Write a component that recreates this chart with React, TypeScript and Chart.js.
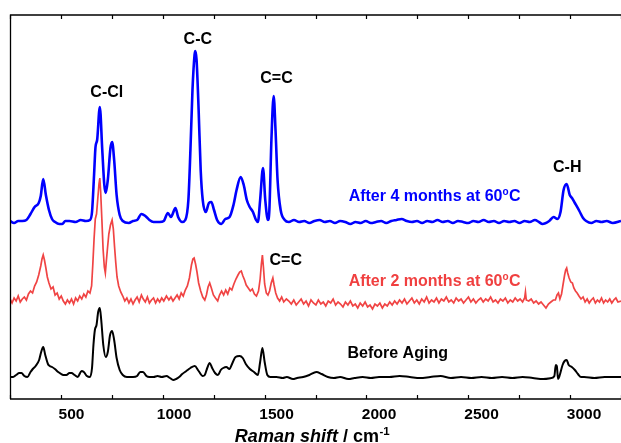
import React, { useEffect, useRef } from 'react';
import { Chart, registerables } from 'chart.js';

Chart.register(...registerables);

// [Raman shift (cm-1), intensity (arbitrary units, traces offset)]
const blueSpectrum: number[][] = [
  [200, 178], [220, 176], [240, 178], [260, 178], [280, 179], [300, 185], [320, 192], [340, 196], [350, 203], [362, 220],
  [375, 204], [390, 189], [405, 180], [420, 177], [440, 175], [455, 175], [470, 178], [490, 178], [520, 177], [545, 179],
  [570, 178], [590, 179], [600, 187], [610, 224], [617, 252], [625, 259], [638, 292], [650, 249], [660, 214], [667, 206],
  [677, 219], [690, 251], [698, 257], [708, 239], [720, 204], [735, 184], [750, 178], [780, 176], [800, 178], [820, 179],
  [841, 185], [860, 183], [880, 179], [900, 177], [930, 177], [950, 178], [970, 186], [985, 182], [1007, 191], [1020, 182],
  [1040, 177], [1055, 179], [1070, 199], [1080, 249], [1090, 309], [1100, 344], [1104, 348], [1110, 339], [1120, 289], [1130, 229],
  [1140, 199], [1155, 187], [1170, 196], [1182, 197], [1195, 189], [1210, 179], [1231, 175], [1250, 180], [1271, 182], [1290, 194],
  [1305, 209], [1325, 222], [1340, 214], [1355, 199], [1369, 192], [1385, 187], [1400, 179], [1409, 177], [1420, 199], [1434, 231],
  [1445, 199], [1458, 179], [1465, 189], [1475, 259], [1486, 303], [1495, 269], [1505, 219], [1520, 189], [1540, 179], [1560, 177],
  [1585, 179], [1610, 177], [1635, 178], [1660, 176], [1685, 178], [1710, 179], [1735, 177], [1760, 178], [1785, 176], [1810, 178],
  [1835, 177], [1860, 175], [1885, 177], [1910, 176], [1935, 178], [1960, 176], [1985, 177], [2010, 178], [2035, 176], [2060, 178],
  [2085, 179], [2110, 180], [2135, 178], [2160, 177], [2185, 178], [2210, 176], [2235, 178], [2260, 177], [2285, 179], [2310, 177],
  [2335, 178], [2360, 176], [2385, 178], [2410, 177], [2435, 176], [2460, 178], [2485, 177], [2510, 179], [2535, 177], [2560, 178],
  [2585, 176], [2610, 178], [2635, 177], [2660, 178], [2685, 176], [2710, 178], [2735, 177], [2760, 179], [2780, 177], [2797, 175],
  [2830, 178], [2851, 182], [2870, 180], [2885, 187], [2900, 209], [2915, 215], [2930, 204], [2941, 201], [2955, 196], [2977, 188],
  [2995, 181], [3010, 178], [3035, 176], [3060, 178], [3085, 177], [3110, 178], [3140, 176], [3180, 178],
];

const redSpectrum: number[][] = [
  [200, 100], [210, 96], [220, 101], [230, 98], [240, 103], [250, 97], [260, 100], [270, 102], [280, 99], [290, 105],
  [300, 108], [310, 106], [320, 113], [330, 117], [340, 124], [350, 133], [356, 140], [362, 144], [368, 139], [375, 131],
  [382, 122], [390, 116], [400, 110], [410, 112], [420, 104], [430, 106], [440, 100], [450, 103], [460, 98], [470, 95],
  [480, 99], [490, 96], [500, 100], [510, 95], [520, 101], [530, 98], [540, 103], [550, 100], [560, 105], [570, 102],
  [580, 108], [590, 106], [598, 113], [604, 135], [610, 160], [616, 180], [622, 185], [628, 200], [634, 215], [638, 221],
  [642, 208], [648, 180], [654, 150], [660, 132], [665, 126], [670, 138], [676, 152], [682, 165], [690, 174], [698, 179],
  [704, 170], [710, 152], [716, 136], [722, 122], [730, 113], [740, 107], [750, 103], [760, 98], [770, 101], [780, 96],
  [790, 100], [800, 95], [810, 99], [820, 102], [830, 97], [841, 104], [850, 100], [860, 97], [870, 102], [880, 96],
  [890, 99], [900, 101], [910, 96], [920, 100], [930, 97], [940, 101], [950, 98], [963, 103], [975, 99], [985, 102],
  [995, 98], [1005, 101], [1015, 104], [1025, 100], [1035, 106], [1045, 103], [1055, 109], [1065, 113], [1075, 121], [1085, 134],
  [1092, 140], [1098, 141], [1105, 135], [1112, 127], [1120, 116], [1130, 108], [1140, 102], [1150, 99], [1158, 104], [1166, 112],
  [1174, 116], [1182, 111], [1192, 104], [1202, 101], [1213, 98], [1222, 104], [1232, 108], [1242, 104], [1252, 109], [1262, 105],
  [1272, 111], [1282, 109], [1292, 115], [1302, 120], [1312, 124], [1320, 127], [1328, 128], [1336, 123], [1344, 119], [1352, 114],
  [1362, 111], [1372, 108], [1382, 110], [1392, 105], [1402, 103], [1412, 108], [1420, 120], [1426, 135], [1431, 144], [1436, 132],
  [1442, 115], [1450, 106], [1458, 104], [1466, 108], [1474, 116], [1482, 121], [1488, 114], [1496, 106], [1505, 101], [1515, 98],
  [1525, 102], [1535, 97], [1548, 100], [1560, 98], [1572, 95], [1584, 99], [1596, 94], [1608, 97], [1620, 100], [1632, 95],
  [1644, 98], [1656, 93], [1668, 99], [1680, 96], [1692, 94], [1704, 99], [1716, 95], [1728, 97], [1740, 93], [1752, 98],
  [1764, 96], [1776, 100], [1788, 94], [1800, 97], [1812, 95], [1824, 92], [1836, 97], [1848, 94], [1860, 98], [1872, 93],
  [1884, 95], [1896, 91], [1908, 96], [1920, 93], [1932, 97], [1944, 92], [1956, 94], [1968, 90], [1980, 95], [1992, 93],
  [2004, 96], [2016, 91], [2028, 95], [2040, 93], [2052, 97], [2064, 94], [2076, 98], [2088, 95], [2100, 99], [2112, 96],
  [2124, 100], [2136, 95], [2148, 98], [2160, 101], [2172, 96], [2184, 99], [2196, 95], [2208, 100], [2220, 97], [2232, 102],
  [2244, 96], [2256, 99], [2268, 97], [2280, 101], [2292, 96], [2304, 100], [2316, 98], [2328, 102], [2340, 97], [2352, 99],
  [2364, 96], [2376, 101], [2388, 98], [2400, 100], [2412, 96], [2424, 99], [2436, 102], [2448, 97], [2460, 100], [2472, 96],
  [2484, 99], [2496, 101], [2508, 97], [2520, 100], [2532, 98], [2544, 102], [2556, 97], [2568, 99], [2580, 96], [2592, 100],
  [2604, 98], [2616, 101], [2628, 96], [2640, 99], [2652, 97], [2664, 101], [2676, 98], [2688, 100], [2700, 97], [2710, 101],
  [2714, 107], [2718, 99], [2730, 98], [2742, 100], [2754, 96], [2766, 98], [2778, 95], [2790, 97], [2802, 94], [2814, 91],
  [2826, 95], [2838, 97], [2850, 99], [2860, 99], [2868, 104], [2875, 106], [2882, 100], [2890, 105], [2897, 114], [2905, 124],
  [2910, 129], [2915, 131], [2920, 126], [2927, 121], [2935, 117], [2943, 116], [2950, 111], [2958, 108], [2966, 106], [2975, 103],
  [2985, 100], [2995, 102], [3005, 97], [3015, 100], [3025, 96], [3035, 99], [3045, 101], [3055, 96], [3065, 99], [3075, 97],
  [3085, 101], [3095, 96], [3105, 99], [3115, 97], [3125, 100], [3135, 96], [3145, 99], [3155, 101], [3165, 97], [3180, 98],
];

const blackSpectrum: number[][] = [
  [200, 22], [215, 22], [230, 24], [245, 26], [256, 26], [270, 23], [285, 22], [300, 27], [311, 30], [325, 33],
  [342, 39], [352, 47], [362, 52], [372, 44], [385, 35], [394, 33], [405, 32], [419, 30], [435, 27], [450, 25],
  [459, 24], [475, 24], [490, 26], [500, 26], [515, 24], [530, 22], [549, 28], [560, 27], [575, 23], [590, 22],
  [600, 31], [607, 54], [614, 69], [622, 74], [630, 87], [638, 91], [645, 79], [655, 54], [667, 42], [677, 47],
  [688, 64], [698, 68], [708, 59], [720, 41], [735, 29], [750, 24], [770, 22], [800, 22], [820, 23], [835, 27],
  [849, 27], [865, 23], [880, 22], [900, 22], [920, 23], [940, 22], [963, 23], [980, 21], [996, 19], [1010, 20],
  [1025, 22], [1040, 25], [1060, 28], [1080, 31], [1101, 33], [1120, 28], [1140, 23], [1150, 24], [1162, 31], [1174, 36],
  [1186, 31], [1200, 26], [1214, 24], [1228, 29], [1240, 31], [1255, 32], [1270, 30], [1285, 36], [1300, 42], [1320, 43],
  [1335, 41], [1350, 35], [1370, 30], [1390, 27], [1409, 24], [1420, 37], [1431, 51], [1442, 37], [1455, 24], [1470, 22],
  [1500, 22], [1530, 21], [1550, 22], [1580, 20], [1600, 21], [1630, 22], [1660, 24], [1694, 27], [1720, 25], [1750, 22],
  [1780, 21], [1810, 22], [1850, 20], [1880, 21], [1920, 22], [1960, 21], [2000, 22], [2050, 22], [2100, 23], [2150, 22],
  [2200, 21], [2250, 22], [2300, 23], [2350, 21], [2400, 22], [2450, 21], [2500, 22], [2550, 21], [2600, 22], [2650, 21],
  [2700, 22], [2750, 21], [2800, 20], [2840, 21], [2855, 23], [2862, 34], [2867, 33], [2873, 20], [2880, 23], [2895, 34],
  [2905, 38], [2915, 39], [2925, 34], [2940, 32], [2955, 29], [2970, 25], [2985, 22], [3000, 22], [3050, 21], [3100, 22],
  [3180, 22],
];

const xTickLabels = [500, 1000, 1500, 2000, 2500, 3000];

// Annotation texts placed in data coordinates
const annotations = [
  { text: 'C-Cl', sup: '', tail: '', x: 672, y: 306, color: '#000000' },
  { text: 'C-C', sup: '', tail: '', x: 1116, y: 359, color: '#000000' },
  { text: 'C=C', sup: '', tail: '', x: 1500, y: 320, color: '#000000' },
  { text: 'C-H', sup: '', tail: '', x: 2918, y: 231, color: '#000000' },
  { text: 'After 4 months at 60', sup: 'o', tail: 'C', x: 2271, y: 202, color: '#0000ff' },
  { text: 'C=C', sup: '', tail: '', x: 1545, y: 138, color: '#000000' },
  { text: 'After 2 months at 60', sup: 'o', tail: 'C', x: 2271, y: 117, color: '#f04040' },
  { text: 'Before Aging', sup: '', tail: '', x: 2091, y: 45, color: '#000000' },
];

const FAMILY = "Arial, 'Liberation Sans', sans-serif";

function toPoints(pairs: number[][]) {
  return pairs.map((p) => ({ x: p[0], y: p[1] }));
}

const overlayPlugin = {
  id: 'overlay',
  afterDatasetsDraw(chart: any) {
    const { ctx, chartArea, scales } = chart;
    const xs = scales.x;
    const ys = scales.y;
    ctx.save();
    // frame
    ctx.strokeStyle = '#000';
    ctx.lineWidth = 1.3;
    ctx.beginPath();
    ctx.moveTo(chartArea.left + 0.5, chartArea.bottom);
    ctx.lineTo(chartArea.left + 0.5, chartArea.top);
    ctx.lineTo(chartArea.right + 2, chartArea.top);
    ctx.moveTo(chartArea.left, chartArea.bottom);
    ctx.lineTo(chartArea.right + 2, chartArea.bottom);
    ctx.stroke();
    // inward ticks on bottom and top
    ctx.lineWidth = 1.2;
    ctx.beginPath();
    xs.ticks.forEach((t: any) => {
      const px = Math.round(xs.getPixelForValue(t.value)) + 0.5;
      const len = t.value % 500 === 0 ? 7 : 4;
      ctx.moveTo(px, chartArea.bottom);
      ctx.lineTo(px, chartArea.bottom - len);
      ctx.moveTo(px, chartArea.top);
      ctx.lineTo(px, chartArea.top + len);
    });
    ctx.stroke();

    // tick labels
    ctx.fillStyle = '#000';
    ctx.font = `bold 15.5px ${FAMILY}`;
    ctx.textAlign = 'center';
    ctx.textBaseline = 'middle';
    xTickLabels.forEach((v) => {
      ctx.fillText(String(v), xs.getPixelForValue(v), chartArea.bottom + 16);
    });

    // annotations
    ctx.textBaseline = 'middle';
    annotations.forEach((a) => {
      const mainFont = `bold 16px ${FAMILY}`;
      const supFont = `bold 10px ${FAMILY}`;
      ctx.font = mainFont;
      const w1 = ctx.measureText(a.text).width;
      const w3 = a.tail ? ctx.measureText(a.tail).width : 0;
      ctx.font = supFont;
      const w2 = a.sup ? ctx.measureText(a.sup).width + 0.5 : 0;
      const total = w1 + w2 + w3;
      const cx = xs.getPixelForValue(a.x);
      const cy = ys.getPixelForValue(a.y);
      let x = cx - total / 2;
      ctx.fillStyle = a.color;
      ctx.textAlign = 'left';
      ctx.font = mainFont;
      ctx.fillText(a.text, x, cy);
      x += w1;
      if (a.sup) {
        ctx.font = supFont;
        ctx.fillText(a.sup, x, cy - 5);
        x += w2;
      }
      if (a.tail) {
        ctx.font = mainFont;
        ctx.fillText(a.tail, x, cy);
      }
    });

    // x axis title
    const titleFontI = `italic bold 18px ${FAMILY}`;
    const titleFont = `bold 18px ${FAMILY}`;
    const supT = `bold 11.5px ${FAMILY}`;
    const p1 = 'Raman shift';
    const p2 = ' / cm';
    const p3 = '-1';
    ctx.font = titleFontI;
    const tw1 = ctx.measureText(p1).width;
    ctx.font = titleFont;
    const tw2 = ctx.measureText(p2).width;
    ctx.font = supT;
    const tw3 = ctx.measureText(p3).width;
    const tx0 = 312 - (tw1 + tw2 + tw3) / 2;
    const base = chart.height - 1;
    ctx.textBaseline = 'alphabetic';
    ctx.fillStyle = '#000';
    ctx.font = titleFontI;
    ctx.fillText(p1, tx0, base);
    ctx.font = titleFont;
    ctx.fillText(p2, tx0 + tw1, base);
    ctx.font = supT;
    ctx.fillText(p3, tx0 + tw1 + tw2 + 0.5, base - 7.5);
    ctx.restore();
  },
};

export default function App() {
  const canvasRef = useRef<HTMLCanvasElement | null>(null);

  useEffect(() => {
    if (!canvasRef.current) return;
    const chart = new Chart(canvasRef.current, {
      type: 'line',
      data: {
        datasets: [
          {
            label: 'After 4 months at 60°C',
            data: toPoints(blueSpectrum),
            borderColor: '#0000ff',
            borderWidth: 2.6,
            pointRadius: 0,
            cubicInterpolationMode: 'monotone',
            fill: false,
          },
          {
            label: 'After 2 months at 60°C',
            data: toPoints(redSpectrum),
            borderColor: '#f04444',
            borderWidth: 1.7,
            pointRadius: 0,
            tension: 0,
            fill: false,
          },
          {
            label: 'Before Aging',
            data: toPoints(blackSpectrum),
            borderColor: '#000000',
            borderWidth: 2,
            pointRadius: 0,
            cubicInterpolationMode: 'monotone',
            fill: false,
          },
        ],
      },
      options: {
        responsive: false,
        animation: false,
        events: [],
        layout: { padding: { left: 10, top: 15, right: 0, bottom: 0 } },
        plugins: {
          legend: { display: false },
          tooltip: { enabled: false },
          title: { display: false },
        },
        scales: {
          x: {
            type: 'linear',
            min: 200,
            max: 3180,
            border: { display: false },
            grid: { display: false, drawTicks: false },
            ticks: {
              display: false,
              stepSize: 250,
              includeBounds: false,
              autoSkip: false,
            },
            afterFit: (scale: any) => {
              scale.height = 44;
            },
          },
          y: {
            type: 'linear',
            display: false,
            min: 0,
            max: 384,
          },
        },
      },
      plugins: [overlayPlugin],
    });
    return () => chart.destroy();
  }, []);

  return (
    <canvas
      ref={canvasRef}
      width={621}
      height={443}
      style={{ position: 'fixed', left: 0, top: 0, display: 'block', background: '#fff' }}
    />
  );
}
